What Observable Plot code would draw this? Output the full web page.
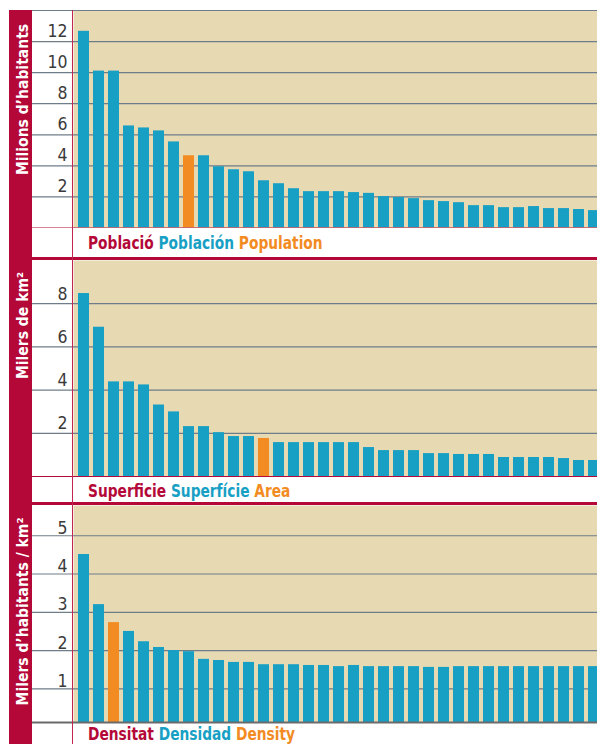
<!DOCTYPE html>
<html>
<head>
<meta charset="utf-8">
<script src="https://cdn.jsdelivr.net/npm/d3@7"></script>
<script src="https://cdn.jsdelivr.net/npm/@observablehq/plot@0.6"></script>
<style>
  html, body { margin: 0; padding: 0; background: #fff; overflow: hidden; }
  #wrap { position: relative; width: 597px; height: 744px; overflow: hidden; }
  .abs { position: absolute; }
  #band { left: 9px; top: 10px; width: 23px; bottom: 0; background: #b30838; }
  #vline { left: 72px; top: 10px; width: 1px; bottom: 0; background: #c22552; z-index: 5; }
  .thick { left: 32px; width: 565px; height: 3px; background: #b30838; z-index: 4; }
  .panel { left: 0; z-index: 2; }
  .cap { left: 88px; z-index: 3; white-space: nowrap;
         font-family: "Liberation Sans Narrow", "Arial Narrow", "DejaVu Sans Condensed", sans-serif;
         font-weight: bold; font-size: 18px; line-height: 18px;
         transform: scaleX(0.85); transform-origin: 0 0; }
  .cap .ca { color: #b30838; }
  .cap .es { color: #179fc4; }
  .cap .en { color: #f28b22; }
</style>
</head>
<body>
<div id="wrap">
  <div id="band" class="abs"></div>
  <div id="p1" class="abs panel" style="top:0px"></div>
  <div id="p2" class="abs panel" style="top:260px"></div>
  <div id="p3" class="abs panel" style="top:505px"></div>
  <div class="abs cap" style="top:233.5px"><span class="ca">Població</span> <span class="es">Población</span> <span class="en">Population</span></div>
  <div class="abs thick" style="top:257px"></div>
  <div class="abs cap" style="top:481.5px"><span class="ca">Superficie</span> <span class="es">Superfície</span> <span class="en">Area</span></div>
  <div class="abs thick" style="top:502px"></div>
  <div class="abs cap" style="top:724.6px"><span class="ca">Densitat</span> <span class="es">Densidad</span> <span class="en">Density</span></div>
  <div id="vline" class="abs"></div>
</div>
<script>
// ---- Data ----
const ranks = [1,2,3,4,5,6,7,8,9,10,11,12,13,14,15,16,17,18,19,20,21,22,23,24,25,26,27,28,29,30,31,32,33,34,35];

// Population (millions of inhabitants)
const popValues = [12.66,10.10,10.10,6.57,6.44,6.25,5.54,4.65,4.65,3.94,3.75,3.62,3.04,2.85,2.53,2.34,2.34,2.34,2.28,2.23,2.02,1.96,1.89,1.76,1.70,1.63,1.44,1.44,1.31,1.31,1.38,1.25,1.25,1.19,1.12];
const popHighlightRank = 8;
const popGrid = [2,4,6,8,10,12,14];
const popTickLabels = [2,4,6,8,10,12];
const popDomain = [0, 14];

// Area (thousands of km²)
const areaValues = [8.47,6.91,4.38,4.38,4.24,3.31,2.99,2.31,2.31,2.03,1.85,1.85,1.76,1.57,1.57,1.57,1.57,1.57,1.57,1.34,1.20,1.20,1.20,1.06,1.06,1.02,1.02,1.02,0.88,0.88,0.88,0.88,0.83,0.74,0.74];
const areaHighlightRank = 13;
const areaGrid = [2,4,6,8];
const areaTickLabels = [2,4,6,8];
const areaDomain = [0, 10];

// Density (thousands of inhabitants / km²)
const densValues = [4.51,3.20,2.73,2.50,2.23,2.08,2.00,1.97,1.77,1.74,1.69,1.69,1.63,1.63,1.63,1.61,1.61,1.58,1.61,1.58,1.58,1.58,1.58,1.56,1.56,1.58,1.58,1.58,1.58,1.58,1.58,1.58,1.58,1.58,1.58];
const densHighlightRank = 3;
const densGrid = [1,2,3,4,5];
const densTickLabels = [1,2,3,4,5];
const densDomain = [0.12, 5.79];

const titles = ["Milions d’habitants", "Milers de km²", "Milers d’habitants / km²"];

// ---- Styles ----
const crimson = "#b30838";
const blue = "#179fc4";
const orange = "#f28b22";
const beige = "#e7dab3";
const gridColor = "#6e7d89";
const narrow = '"Liberation Sans Narrow", "Arial Narrow", "DejaVu Sans Condensed", sans-serif';

function panel({values, highlightRank, domain, height, marginTop, marginBottom, grid, tickLabels,
                baseColor, baseWidth, title, titleDy, tickDy}) {
  const data = ranks.map((r, i) => ({rank: r, value: values[i], hl: r === highlightRank}));
  return Plot.plot({
    width: 597, height, marginLeft: 73, marginRight: 0, marginTop, marginBottom,
    style: {background: "transparent", color: "#3a3a3a", fontFamily: narrow, fontSize: "17.5px"},
    x: {type: "band", domain: ranks, range: [78, 603.1], paddingInner: 0.2725, paddingOuter: 0, align: 0, axis: null},
    y: {domain, axis: null},
    marks: [
      Plot.frame({fill: beige, stroke: null}),
      Plot.ruleY(grid, {stroke: gridColor, strokeWidth: 1.2, insetLeft: -41}),
      Plot.barY(data, {x: "rank", y: "value", fill: d => d.hl ? orange : blue, clip: true}),
      Plot.ruleY([domain[0]], {stroke: baseColor, strokeWidth: baseWidth, insetLeft: -41}),
      Plot.axisY({ticks: tickLabels, tickFormat: d => `${d}`, tickSize: 0, tickPadding: 6, dy: tickDy,
                  fontSize: 17.5, label: null, fill: "#3a3a3a"}),
      Plot.text([title], {frameAnchor: "left", dx: -50.5, dy: titleDy, rotate: -90, fill: "white",
                          fontWeight: "bold", fontSize: 15.5, textAnchor: "middle", fontFamily: narrow})
    ]
  });
}

document.getElementById("p1").append(panel({
  values: popValues, highlightRank: popHighlightRank, domain: popDomain,
  height: 228, marginTop: 10, marginBottom: 0.5, grid: popGrid, tickLabels: popTickLabels,
  baseColor: crimson, baseWidth: 1.2, title: titles[0], titleDy: -19.75, tickDy: -10.6
}));
document.getElementById("p2").append(panel({
  values: areaValues, highlightRank: areaHighlightRank, domain: areaDomain,
  height: 218, marginTop: 0, marginBottom: 2, grid: areaGrid, tickLabels: areaTickLabels,
  baseColor: crimson, baseWidth: 1.2, title: titles[1], titleDy: -43, tickDy: -9.8
}));
document.getElementById("p3").append(panel({
  values: densValues, highlightRank: densHighlightRank, domain: densDomain,
  height: 219, marginTop: 0, marginBottom: 2, grid: densGrid, tickLabels: densTickLabels,
  baseColor: "#6a6a6a", baseWidth: 2, title: titles[2], titleDy: -2.5, tickDy: -7.6
}));
</script>
</body>
</html>
